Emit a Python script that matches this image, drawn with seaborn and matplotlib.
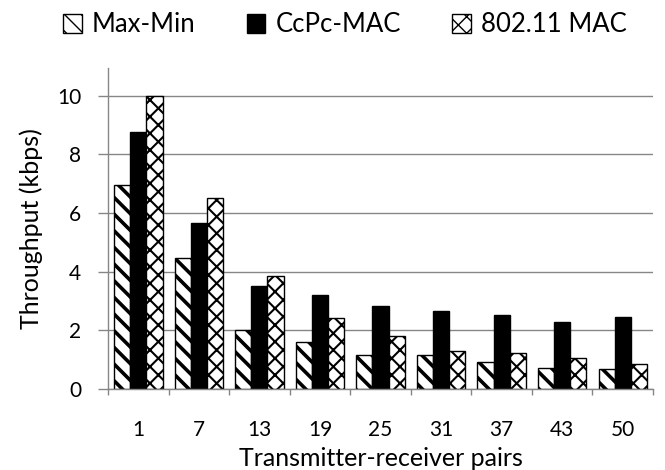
import matplotlib
matplotlib.use("Agg")
import matplotlib.pyplot as plt
import seaborn as sns
import pandas as pd
from matplotlib.patches import Patch

pairs = ["1", "7", "13", "19", "25", "31", "37", "43", "50"]
max_min = [6.96, 4.47, 2.02, 1.62, 1.17, 1.17, 0.92, 0.73, 0.67]
ccpc_mac = [8.78, 5.67, 3.51, 3.22, 2.82, 2.67, 2.52, 2.27, 2.47]
mac_80211 = [9.98, 6.52, 3.87, 2.42, 1.81, 1.28, 1.23, 1.07, 0.86]
series = ["Max-Min", "CcPc-MAC", "802.11 MAC"]

sns.set_theme(style="white")
plt.rcParams['font.family'] = ['Lato', 'DejaVu Sans']
plt.rcParams['text.color'] = 'black'

df = pd.DataFrame({
    "pairs": pairs * 3,
    "value": max_min + ccpc_mac + mac_80211,
    "series": [series[0]] * 9 + [series[1]] * 9 + [series[2]] * 9,
})

GRAY = "#868686"
faces = {"Max-Min": "white", "CcPc-MAC": "black", "802.11 MAC": "white"}
hatches = {"Max-Min": "\\\\", "CcPc-MAC": "", "802.11 MAC": "xx"}
hlw = {"Max-Min": 2.6, "CcPc-MAC": 1.0, "802.11 MAC": 1.5}

fig = plt.figure(figsize=(6.65, 4.7), dpi=100)
ax = fig.add_axes([108 / 665, 1 - 389 / 470, 545 / 665, (389 - 68) / 470])

sns.barplot(data=df, x="pairs", y="value", hue="series", order=pairs,
            hue_order=series, palette=faces, width=0.8, ax=ax,
            edgecolor="black", linewidth=1.0, legend=False, saturation=1)

for cont, s in zip(ax.containers, series):
    for bar in cont:
        bar.set_hatch(hatches[s])
        if hasattr(bar, "set_hatch_linewidth"):
            bar.set_hatch_linewidth(hlw[s])

ax.set_xlim(-0.5, 8.5)
ax.set_ylim(0, 10.95)
ax.set_yticks([0, 2, 4, 6, 8, 10])
ax.yaxis.grid(True, color=GRAY, linewidth=1.0)
ax.set_axisbelow(True)
for sp in ["top", "right"]:
    ax.spines[sp].set_visible(False)
for sp in ["left", "bottom"]:
    ax.spines[sp].set_color(GRAY)
    ax.spines[sp].set_linewidth(1.0)

ax.tick_params(axis="y", which="major", direction="out", length=7.2, width=1,
               color=GRAY, pad=12, labelsize=15, labelcolor="black", left=True)
ax.set_xticks(range(len(pairs)))
ax.set_xticklabels(pairs)
ax.set_xticks([i - 0.5 for i in range(len(pairs) + 1)], minor=True)
ax.tick_params(axis="x", which="major", length=0, pad=22, labelsize=15,
               labelcolor="black")
ax.tick_params(axis="x", which="minor", direction="out", length=4.5, width=1,
               color=GRAY, bottom=True)

ax.set_xlabel("Transmitter-receiver pairs", fontsize=18, labelpad=5, color="black")
ax.set_ylabel("Throughput (kbps)", fontsize=18, labelpad=10, color="black")

handles = []
for s in series:
    p = Patch(facecolor=faces[s], edgecolor="black", hatch=hatches[s], linewidth=1.0)
    if hasattr(p, "set_hatch_linewidth"):
        p.set_hatch_linewidth(hlw[s])
    handles.append(p)
fig.legend(handles=handles, labels=series, loc="center",
           bbox_to_anchor=(345 / 665, 1 - 25 / 470), ncol=3, frameon=False,
           fontsize=18.5, handlelength=0.72, handleheight=0.72,
           handletextpad=0.4, columnspacing=2.0, borderpad=0, borderaxespad=0)

fig.savefig("out.png", dpi=100)
